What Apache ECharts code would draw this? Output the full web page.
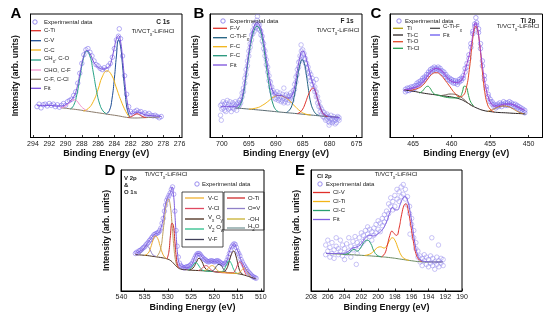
<!DOCTYPE html>
<html><head><meta charset="utf-8">
<script src="https://cdn.jsdelivr.net/npm/echarts@6/dist/echarts.min.js"></script>
<style>html,body{margin:0;padding:0;background:#fff}#c{width:556px;height:321px}</style>
</head><body><div id="c"></div>
<script>
// ---------- tick labels ----------
const A_ticks = [294,292,290,288,286,284,282,280,278,276];
const B_ticks = [700,695,690,685,680,675];
const C_ticks = [465,460,455,450];
const D_ticks = [540,535,530,525,520,515,510];
const E_ticks = [208,206,204,202,200,198,196,194,192,190];

// ---------- Panel A : C 1s ----------
const A_exp = [[293.5,25],[293.25,27],[293,24],[292.75,26.5],[292.5,27],[292.25,25.5],[292,27.5],[291.75,26],[291.5,27],[291.25,25],[291,26.5],[290.75,24.5],[290.5,26],[290.25,27.5],[290,26],[289.75,29],[289.5,30],[289.25,31],[289,34],[288.75,37],[288.5,44],[288.25,52],[288,60],[287.75,67],[287.5,71],[287.25,72],[287,69],[286.75,66],[286.5,62],[286.25,59],[286,58],[285.75,56],[285.5,55],[285.25,56.5],[285,55],[284.75,58],[284.5,60],[284.25,65],[284,72],[283.75,79],[283.5,82],[283.4,88],[283.25,80],[283,66],[282.75,50],[282.5,35],[282.25,25],[282,21],[281.75,19.5],[281.5,21],[281.25,22],[281,20.5],[280.75,21],[280.5,19],[280.25,20],[280,18.5],[279.75,19.5],[279.5,18],[279.25,17.5],[279,18],[278.75,17],[278.5,16],[278.25,17]];
const A_CFCCl = [[290.5,24],[289.5,23.3],[288.5,22.5],[287.5,21.5],[286.5,20.5],[285.5,19.5],[284.5,18.5],[283.5,17.5],[282.5,16.3],[281.5,15.8],[280.5,16],[279.5,16.3],[278.5,16.5]];
const A_CTi = [[282.3,16.3],[281.9,17],[281.5,18.5],[281.2,19.2],[280.9,18.3],[280.5,16.8],[280.1,16.1]];
const A_CV = [[285.0,19],[284.6,22],[284.3,31],[284.0,48],[283.75,66],[283.5,79],[283.25,74],[283.0,58],[282.7,37],[282.4,22],[282.1,16.5]];
const A_CC = [[287.8,21.3],[287.2,23.5],[286.6,29],[286.0,39],[285.5,49],[284.9,54],[284.3,50],[283.8,41],[283.2,30],[282.6,21],[282.2,16.8]];
const A_CHx = [[289.4,23],[289.0,26],[288.6,35],[288.2,50],[287.8,64],[287.4,70],[287.0,66],[286.6,53],[286.2,38],[285.8,27],[285.4,21.5],[285.0,19.3]];
const A_CHO = [[290.6,24],[290.1,25],[289.6,27.5],[289.1,30.5],[288.7,30],[288.3,27],[287.9,24],[287.4,21.8]];
const A_fit = [[293.5,26],[292,26],[291,25.5],[290.5,25.5],[290,26.5],[289.5,29],[289,33],[288.6,40],[288.2,53],[287.8,65],[287.4,70.5],[287.0,68],[286.6,62],[286.2,58],[285.8,56],[285.4,55.5],[285,56],[284.6,58],[284.3,64],[284.0,73],[283.75,80],[283.5,82.5],[283.25,78],[283.0,64],[282.7,44],[282.4,28],[282.1,20.5],[281.8,19],[281.4,20.5],[281.0,20.5],[280.5,19],[280,18],[279,17.5],[278.2,17]];

// ---------- Panel B : F 1s (rows: x, y1, y2) ----------
const B_exp = [[700.25,26,18],[700,27,23],[699.75,24,29],[699.5,22,27],[699.25,28,21],[699,25,30],[698.75,23,27],[698.5,29,24],[698.25,26,21],[698,24,28],[697.75,27,23],[697.5,25,29],[697.25,22,27],[697,28,25],[696.75,30,26],[696.5,31,28],[696.25,36,33],[696,40,37],[695.75,48,44],[695.5,55,51],[695.25,62,58],[695,70,66],[694.75,76,73],[694.5,83,79],[694.25,87,84],[694,91,86],[693.75,93,89],[693.5,95,90],[693.25,92,88],[693,91,87],[692.75,86,83],[692.5,82,78],[692.25,76,72],[692,70,66],[691.75,63,59],[691.5,57,53],[691.25,50,46],[691,45,41],[690.75,41,37],[690.5,38,34],[690.25,36,32],[690,35,31],[689.75,37,32],[689.5,34,30],[689.25,36,31],[689,33,29],[688.75,35,30],[688.5,32,28],[688.25,34,29],[688,31,35],[687.75,33,28],[687.5,30,34],[687.25,32,36],[687,34,30],[686.75,38,35],[686.5,43,39],[686.25,49,45],[686,55,51],[685.75,61,57],[685.5,66,62],[685.25,70,65],[685,71,66],[684.75,68,64],[684.5,64,60],[684.25,60,56],[684,57,52],[683.75,53,49],[683.5,51,46],[683.25,48,43],[683,45,40],[682.75,41,37],[682.5,37,33],[682.25,33,28],[682,29,25],[681.75,25,21],[681.5,23,19],[681.25,21,17],[681,20,16],[680.75,18,14],[680.5,19,15],[680.25,17,13],[680,16,12],[679.75,18,14],[679.5,15,12],[679.25,17,13],[679,14,11],[678.75,16,12],[678.5,15,17],[678.25,14,16],[700.1,14],[693.4,98],[685.3,75],[682.5,47],[688.5,40],[680.1,10]];
const B_base = [[697.5,24],[695,23],[692,21.8],[689,20.5],[686,19.3],[683,18],[680.5,17],[678.5,16.5]];
const B_FV = [[686,19.3],[685.5,20.5],[685,23],[684.5,28],[684,34],[683.5,38.5],[683.1,40],[682.7,38],[682.3,32],[681.8,25],[681.3,20],[680.8,17.8],[680.3,17]];
const B_CTiF = [[688,20.3],[687.5,22],[687,26],[686.5,35],[686,48],[685.5,59],[685.1,63],[684.7,60],[684.3,50],[683.9,38],[683.5,28],[683,22],[682.5,19],[682,18]];
const B_FC1 = [[695,23],[693.5,24],[692.5,26],[691.5,29],[690.5,32.5],[689.5,34],[688.5,33],[687.5,30],[686.5,25.5],[685.5,21.5],[684.5,19],[683.5,18.2]];
const B_FC2 = [[697,24],[696.5,27],[696,35],[695.5,50],[695,66],[694.5,79],[694,87],[693.5,90],[693,88],[692.5,80],[692,66],[691.5,50],[691,36],[690.5,27],[690,22.5],[689.5,21]];
const B_fit = [[700.2,25],[698.5,25],[697.5,25],[697,26],[696.5,29],[696,38],[695.5,53],[695,69],[694.5,82],[694,90],[693.5,93],[693,91],[692.5,84],[692,71],[691.5,57],[691,44],[690.5,37],[690,34.5],[689.5,34],[689,34],[688.5,33],[688,32],[687.5,32],[687,34],[686.5,41],[686,54],[685.5,65],[685.1,70],[684.7,69],[684.3,63],[683.9,56],[683.5,49],[683,42],[682.5,35],[682,28],[681.5,22],[681,19],[680,17],[679,16.5],[678.2,16]];

// ---------- Panel C : Ti 2p (rows: x, y1, y2) ----------
const C_exp = [[466,39,37],[465.75,38,40],[465.5,40,38],[465.25,39,41],[465,41,39],[464.75,40,42],[464.5,42,44],[464.25,43,45],[464,44,46],[463.75,46,48],[463.5,47,49],[463.25,49,51],[463,51,53],[462.75,53,55],[462.5,54,56],[462.25,55,57],[462,56,54],[461.75,55,57],[461.5,54,56],[461.25,52,54],[461,51,53],[460.75,49,51],[460.5,47,49],[460.25,46,48],[460,45,47],[459.75,44,46],[459.5,44,46],[459.25,45,43],[459,45,47],[458.75,46,48],[458.5,48,50],[458.25,53,56],[458,57,60],[457.75,64,67],[457.5,73,76],[457.25,84,86],[457,90,92],[456.75,93,91],[456.5,85,88],[456.25,72,76],[456,58,62],[455.75,47,50],[455.5,39,41],[455.25,33,35],[455,29,31],[454.75,27,29],[454.5,25,27],[454.25,24,26],[454,25,27],[453.75,26,28],[453.5,27,25],[453.25,27,29],[453,26,28],[452.75,28,26],[452.5,27,29],[452.25,26,28],[452,27,25],[451.75,25,27],[451.5,24,26],[451.25,23,25],[451,22,24],[450.75,21,23],[450.5,22,20],[456.85,97]];
const C_TiC = [[466.2,38.5],[465,37.5],[464,36.3],[463,35.3],[462,34.5],[461,33.6],[460,32.8],[459,31.3],[458.2,29],[457.4,26],[456.6,23.5],[455.8,21.8],[455,21],[454,20.3],[453,20],[452,19.6],[451,19.3],[450.4,19]];
const C_TiO = [[465.5,38],[464.5,39.5],[463.8,42],[463.2,46.5],[462.6,51],[462.0,52.5],[461.4,50.5],[460.8,46],[460.2,41],[459.6,36],[459.0,33],[458.5,34],[458.1,40],[457.7,55],[457.4,72],[457.1,86],[456.85,90],[456.6,86],[456.3,72],[456.0,53],[455.7,37],[455.4,28],[455.0,23],[454.5,20.8]];
const C_TiCl = [[464.2,36],[463.8,37.5],[463.4,40.5],[463.1,41.5],[462.8,40],[462.5,37],[462.1,34.8],[459.4,32],[458.9,33],[458.6,37],[458.35,41.5],[458.1,41],[457.8,34],[457.5,28.5],[457.1,25.5]];
const C_Ti = [[455.3,21.2],[454.7,22.5],[454.2,24],[453.7,25.2],[453.2,25.5],[452.7,25],[452.2,23.8],[451.7,22],[451.2,20.3],[450.7,19.3]];
const C_CTiF = [[461.5,33.8],[460.8,34.5],[460.2,35.2],[459.6,35],[459,33.5],[458.4,30.8],[457.8,27.5],[457.2,25]];
const C_fit = [[466.2,38.5],[465,40],[464,43],[463.5,46.5],[463,51],[462.5,54.5],[462,56],[461.5,55],[461,52],[460.5,48],[460,45.5],[459.5,44.5],[459,45],[458.6,47.5],[458.3,53],[458,60],[457.7,67],[457.4,77],[457.15,87],[456.9,93],[456.65,89],[456.4,78],[456.1,63],[455.8,49],[455.5,39],[455.2,32],[454.8,27],[454.4,25.5],[454,25.5],[453.5,26.5],[453,27],[452.5,27],[452,26.5],[451.5,25],[451,23.5],[450.5,22]];

// ---------- Panel D : V 2p & O 1s ----------
const D_exp = [[537,31],[536.75,32],[536.5,31.5],[536.25,33],[536,33.5],[535.75,34],[535.5,35],[535.25,36],[535,36.5],[534.75,38],[534.5,39],[534.25,40],[534,41.5],[533.75,42.5],[533.5,44],[533.25,45],[533,46.5],[532.75,47],[532.5,47.5],[532.25,48],[532,48.5],[531.75,50],[531.5,52],[531.25,56],[531,60],[530.75,66],[530.5,71],[530.25,75],[530,77],[529.75,79],[529.5,81],[529.25,84],[529,86],[528.75,80],[528.5,66],[528.25,50],[528,37],[527.75,28],[527.5,23],[527.25,21],[527,20],[526.75,19.5],[526.5,19],[526.25,19.5],[526,20],[525.75,20],[525.5,20.5],[525.25,21],[525,22],[524.75,23],[524.5,25],[524.25,27],[524,29],[523.75,30.5],[523.5,31],[523.25,31],[523,30],[522.75,28.5],[522.5,27.5],[522.25,26.5],[522,26],[521.75,25],[521.5,24.5],[521.25,24],[521,24.5],[520.75,25],[520.5,25],[520.25,24.5],[520,24],[519.75,24.5],[519.5,25],[519.25,25],[519,24.5],[518.75,23.5],[518.5,23],[518.25,22.5],[518,22],[517.75,22.5],[517.5,23.5],[517.25,25.5],[517,28],[516.75,31],[516.5,34],[516.25,36.5],[516,38],[515.75,39],[515.5,38.5],[515.25,36],[515,33],[514.75,31],[514.5,29],[514.25,26],[514,24],[513.75,22],[513.5,20.5],[513.25,19],[513,17.5],[512.75,16],[512.5,15],[512.25,14],[512,13],[511.75,12],[511.5,11.5],[511.25,11],[511,10.5]];
const D_base = [[537,30],[535,29.5],[533,28.5],[531,27.3],[530,26.3],[529.3,24.8],[528.7,22.5],[528,19.8],[527.3,18.2],[526,17.5],[524,17],[522,16.6],[520,16],[518,15.4],[516,14.8],[514.5,14],[513,12.5],[512,11.2],[511,10]];
const D_OV = [[536.5,29.8],[535.8,31.5],[535.2,35],[534.7,37.5],[534.2,36.5],[533.7,33],[533.2,29.8],[532.6,28.7]];
const D_OH = [[535,29.5],[534.3,31],[533.7,36],[533.2,42],[532.7,45.5],[532.2,43.5],[531.7,37.5],[531.2,31.5],[530.7,28],[530.2,26.6]];
const D_H2O = [[532.5,28.3],[532,30.5],[531.5,36],[531.1,47],[530.7,61],[530.3,72],[529.9,76],[529.5,71],[529.1,55],[528.7,36],[528.3,24],[527.9,19.8]];
const D_OTi = [[530.2,26.5],[529.8,32],[529.45,46],[529.1,56],[528.8,54],[528.5,41],[528.2,28],[527.9,21],[527.5,18.8]];
const D_VxOy = [[525.5,17.3],[524.6,19],[523.9,23.5],[523.3,27],[522.7,24.5],[522,19],[521.2,17],[520,16],[519,15.8],[518,16],[517.4,18],[516.9,23],[516.35,30],[515.85,33],[515.35,29],[514.85,21],[514.35,15.5],[513.8,13.6]];
const D_V2Ow = [[525.6,17.3],[524.9,19.5],[524.4,22.3],[523.95,23.5],[523.45,21.5],[522.9,18.5],[522.2,16.8],[521,16.3],[519,15.8],[518.6,15.7],[517.9,17.8],[517.35,22],[516.85,25],[516.35,22.8],[515.85,18],[515.3,15],[514.8,14.3]];
const D_VCl = [[523.4,17],[522.7,18.5],[522.15,20.5],[521.7,21],[521.2,19.5],[520.6,17.2],[519.9,16],[517,15],[516.1,15],[515.45,17.5],[514.95,22],[514.5,24],[514.05,22],[513.6,17],[513.1,13]];
const D_VC = [[522.1,16.8],[521.4,18.5],[520.85,20.5],[520.4,21],[519.9,19.5],[519.3,17],[518.7,15.8],[515.2,14.6],[514.5,15.5],[514.05,17.5],[513.6,19],[513.15,17.5],[512.7,14.5],[512.2,12]];
const D_VF = [[520.6,16.2],[519.95,18],[519.45,21],[519.0,22],[518.5,21],[518,18],[517.4,15.8]];
const D_fit = [[537,31],[536,33],[535,36],[534.5,39],[534,41.5],[533.5,44],[533,46.5],[532.5,47.5],[532,48],[531.5,52],[531,60],[530.6,70],[530.2,76],[529.8,79],[529.4,82],[529.1,86],[528.8,80],[528.5,64],[528.2,45],[527.9,30],[527.5,22],[527,20],[526,19.5],[525,21],[524.3,27],[523.7,31],[523.2,31],[522.6,28],[522,26],[521.3,24],[520.6,25],[520,24],[519.3,25],[518.6,23],[518,22],[517.3,25],[516.8,32],[516.2,37],[515.7,39],[515.2,35],[514.7,31],[514.2,25],[513.6,21],[513,17],[512,13],[511,10.5]];

// ---------- Panel E : Cl 2p (rows: x, y1, y2) ----------
const E_exp = [[206.25,38,30],[206,33,42],[205.75,28,36],[205.5,40,31],[205.25,34,27],[205,37,44],[204.75,30,35],[204.5,42,33],[204.25,29,38],[204,35,26],[203.75,39,31],[203.5,33,44],[203.25,37,28],[203,41,34],[202.75,36,45],[202.5,40,31],[202.25,44,37],[202,39,48],[201.75,46,41],[201.5,50,43],[201.25,47,53],[201,45,51],[200.75,49,42],[200.5,52,46],[200.25,48,55],[200,51,58],[199.75,56,49],[199.5,60,54],[199.25,63,57],[199,66,60],[198.75,72,64],[198.5,70,77],[198.25,74,67],[198,79,70],[197.75,76,84],[197.5,82,74],[197.25,86,78],[197,80,88],[196.75,84,76],[196.5,78,71],[196.25,70,64],[196,60,55],[195.75,50,44],[195.5,40,35],[195.25,33,28],[195,29,24],[194.75,27,21],[194.5,25,30],[194.25,22,28],[194,26,20],[193.75,29,23],[193.5,21,27],[193.25,24,18],[193,28,22],[192.75,20,25],[192.5,23,27],[192.25,26,21],[202.6,22],[192.8,38],[193.6,44],[196.2,47]];
const E_base = [[206.2,31],[204,30.3],[202,29.5],[200,28.5],[198.5,27.5],[197,26],[196,25],[195,24.2],[194,24],[192.3,24]];
const E_ClC = [[204.2,30.3],[203.6,31],[203.15,33.5],[202.85,34.3],[202.5,33],[202.1,35.5],[201.7,40],[201.3,42],[200.9,39.5],[200.5,33],[200.1,29.5],[199.6,28.3]];
const E_ClTi = [[201.6,29.4],[201,30.5],[200.5,33],[200.05,36],[199.7,36.5],[199.3,35.5],[199,37],[198.6,42],[198.3,44],[198,42],[197.6,35],[197.2,29],[196.8,26.5],[196.3,25.3]];
const E_ClV = [[199.6,28.3],[199.2,31],[198.9,38],[198.6,46],[198.35,49.5],[198.1,47.5],[197.8,46],[197.5,52],[197.2,63],[196.9,71],[196.7,72],[196.4,66],[196.1,54],[195.8,41],[195.5,31],[195.2,26.5],[194.8,24.3]];
const E_fit = [[206.2,31],[205,31],[204,31.3],[203.5,33],[203,35.5],[202.5,36.5],[202,39],[201.5,44],[201,46],[200.5,45.5],[200,47.5],[199.5,50.5],[199,57],[198.6,65],[198.3,69],[198,67],[197.7,67],[197.4,71],[197.1,76],[196.8,78],[196.5,75],[196.2,66],[195.9,53],[195.6,39],[195.3,30],[195,26],[194.5,24.5],[193.5,24],[192.3,24]];

// ---------- build ----------
const FONT = '"Liberation Sans", Arial, sans-serif';
const rows = r => r.flatMap(a => a.slice(1).map(y => [a[0], y]));

const panels = [
  {grid:{left:30.5,top:14,width:151.5,height:123.5}, min:275.7, max:294.3, ticks:A_ticks,
   exp:A_exp, expColor:'rgba(110,95,235,0.8)',
   comps:[[A_CFCCl,'#8a7a6a'],[A_CTi,'#e0302a'],[A_CV,'#1f4e96'],[A_CC,'#f2b418'],[A_CHx,'#27a387'],[A_CHO,'#f294cc']],
   fit:[A_fit,'#7a50dc']},
  {grid:{left:210,top:14,width:152,height:123.5}, min:674, max:702.2, ticks:B_ticks,
   exp:rows(B_exp), expColor:'rgba(130,120,235,0.7)',
   comps:[[B_base,'#5a6a70'],[B_FC1,'#f2b418'],[B_FC2,'#23957a'],[B_CTiF,'#1f5f80'],[B_FV,'#e0302a']],
   fit:[B_fit,'#7a50dc']},
  {grid:{left:390,top:14,width:152.5,height:123.5}, min:448.2, max:468, ticks:C_ticks,
   exp:rows(C_exp), expColor:'rgba(110,95,235,0.8)',
   comps:[[C_TiC,'#2a2222'],[C_CTiF,'#6a5a50'],[C_Ti,'#c07a20'],[C_TiCl,'#2aa050'],[C_TiO,'#e04a2a']],
   fit:[C_fit,'#a040d0']},
  {grid:{left:121,top:170,width:143,height:121}, min:509.3, max:540.1, ticks:D_ticks,
   exp:D_exp, expColor:'rgba(120,100,235,0.8)',
   comps:[[D_base,'#4a3020'],[D_OV,'#9080c8'],[D_OH,'#eaa830'],[D_H2O,'#c0a060'],[D_OTi,'#d02a2a'],[D_VxOy,'#4a2a1a'],[D_V2Ow,'#2abf8a'],[D_VCl,'#e04860'],[D_VC,'#f0b030'],[D_VF,'#40405a']],
   fit:[D_fit,'#8060e0']},
  {grid:{left:311,top:170,width:151,height:121}, min:190, max:208, ticks:E_ticks,
   exp:rows(E_exp), expColor:'rgba(135,125,235,0.7)',
   comps:[[E_base,'#6a8a60'],[E_ClC,'#2aa070'],[E_ClTi,'#f2b418'],[E_ClV,'#e0302a']],
   fit:[E_fit,'#8060e0']}
];

const grid=[], xAxis=[], yAxis=[], series=[];
panels.forEach((p,i)=>{
  grid.push(Object.assign({show:true, borderColor:'#000', borderWidth:1, backgroundColor:'transparent'}, p.grid));
  xAxis.push({gridIndex:i, type:'value', min:p.min, max:p.max, inverse:true,
    axisLine:{show:true, onZero:false, lineStyle:{color:'#000',width:1}},
    axisTick:{show:true, inside:true, length:2.5, customValues:p.ticks, lineStyle:{color:'#000',width:0.8}},
    axisLabel:{customValues:p.ticks, fontSize:7, color:'#222', margin:3, fontFamily:FONT},
    splitLine:{show:false},
    name:'Binding Energy (eV)', nameLocation:'middle', nameGap:12,
    nameTextStyle:{fontSize:9, fontWeight:'bold', color:'#111', fontFamily:FONT}});
  yAxis.push({gridIndex:i, type:'value', min:0, max:100,
    axisLine:{show:true, onZero:false, lineStyle:{color:'#000',width:1}},
    axisTick:{show:false}, axisLabel:{show:false}, splitLine:{show:false},
    name:'Intensity (arb. units)', nameLocation:'middle', nameGap:10, nameRotate:90,
    nameTextStyle:{fontSize:8.5, fontWeight:'bold', color:'#111', fontFamily:FONT}});
  series.push({type:'scatter', xAxisIndex:i, yAxisIndex:i, data:p.exp, symbol:'circle', symbolSize:4.5,
    itemStyle:{color:'rgba(0,0,0,0)', borderColor:p.expColor, borderWidth:0.8}, silent:true, z:2});
  p.comps.forEach(c=>series.push({type:'line', xAxisIndex:i, yAxisIndex:i, data:c[0], smooth:0.5, symbol:'none',
    lineStyle:{color:c[1], width:1}, silent:true, z:3}));
  series.push({type:'line', xAxisIndex:i, yAxisIndex:i, data:p.fit[0], smooth:0.5, symbol:'none',
    lineStyle:{color:p.fit[1], width:1}, silent:true, z:4});
});

// ---------- text / legends (graphic) ----------
const G = [];
const rich = {s:{fontSize:4.5, padding:[4,0,0,0], verticalAlign:'top', fontFamily:FONT}, n:{fontSize:6, verticalAlign:'top', fontFamily:FONT}};
function T(x,y,text,size,bold,align,color){
  G.push({type:'text', x:x, y:y, silent:true, z:100, style:{text:text, fill:color||'#222',
    font:(bold?'bold ':'')+(size||6)+'px '+FONT, textAlign:align||'left', align:align||'left',
    textVerticalAlign:'middle', verticalAlign:'middle', rich:rich}});
}
function L(x1,x2,y,color){ G.push({type:'line', silent:true, z:100, shape:{x1:x1,y1:y,x2:x2,y2:y}, style:{stroke:color, lineWidth:1.3}}); }
function O(x,y,color){ G.push({type:'circle', silent:true, z:100, shape:{cx:x,cy:y,r:2.2}, style:{fill:'none', stroke:color||'#8070e8', lineWidth:0.8}}); }
function R(x,y,w,h){ G.push({type:'rect', silent:true, z:99, shape:{x:x,y:y,width:w,height:h}, style:{fill:'none', stroke:'#222', lineWidth:0.8}}); }

// panel letters
T(16,14,'A',15,true,'center','#000'); T(199,14,'B',15,true,'center','#000'); T(376,14,'C',15,true,'center','#000');
T(110,171,'D',15,true,'center','#000'); T(300,171,'E',15,true,'center','#000');
const sub = '{n|Ti/VCT}{s|x}{n|-LiF/HCl}';
// A
T(163,22,'C 1s',6.5,true,'center'); T(153,33,sub,6,false,'center');
O(35,22); T(44,22,'Experimental data');
[['C-Ti','#e0302a',30.7],['C-V','#1f4e96',40.7],['C-C','#f2b418',50],['{n|CH}{s|x}{n|, C-O}','#27a387',60],['CHO, C-F','#f294cc',70],['C-F, C-Cl','#8a7a6a',79.3],['Fit','#7a50dc',88.3]]
  .forEach(r=>{L(31,41,r[2],r[1]); T(44,r[2],r[0]);});
// B
T(347,21,'F 1s',6.5,true,'center'); T(338,32,sub,6,false,'center');
O(223,21); T(230,21,'Experimental data');
[['F-V','#e0302a',28.3],['{n|C-Ti-F}{s|x}','#1f5f80',37.7],['F-C','#f2b418',46.7],['F-C','#23957a',55.7],['Fit','#7a50dc',65]]
  .forEach(r=>{L(213,227,r[2],r[1]); T(230,r[2],r[0]);});
// C
T(528,21,'Ti 2p',6.5,true,'center'); T(518,28,sub,6,false,'center');
O(399,21); T(405,21,'Experimental data');
[['Ti','#b0a010',28.3],['Ti-C','#2a2222',35],['Ti-O','#e04a2a',41.7],['Ti-Cl','#2aa050',48.3]]
  .forEach(r=>{L(393,403,r[2],r[1]); T(407,r[2],r[0]);});
L(430,440,28.3,'#4a4a4a'); T(443,28.3,'{n|C-Ti-F}{s|x}');
L(430,440,35,'#6a5af0'); T(443,35,'Fit');
// D
T(124,178,'V 2p',6,true); T(124,185,'&',6,true); T(124,192,'O 1s',6,true);
T(166,176,sub,6,false,'center');
O(197,184); T(202,184,'Experimental data');
R(182,192,41,55); R(224,192,40,38);
[['V-C','#f0b030',198],['V-Cl','#e04860',208.5],['{n|V}{s|x}{n| O}{s|y}','#4a2a1a',219],['{n|V}{s|2}{n| O}{s|w}','#2abf8a',229],['V-F','#40405a',239.5]]
  .forEach(r=>{L(185,204,r[2],r[1]); T(208,r[2],r[0]);});
[['O-Ti','#d02a2a',198],['O=V','#9080c8',208.5],['-OH','#c8b030',219],['{n|H}{s|2}{n|O}','#7a9a9a',228]]
  .forEach(r=>{L(227,245,r[2],r[1]); T(248,r[2],r[0]);});
// E
T(317,176,'Cl 2p',6,true); T(396,176,sub,6,false,'center');
O(320,184); T(326,184,'Experimental data');
[['Cl-V','#e0302a',192.5],['Cl-Ti','#f2b418',201.5],['Cl-C','#2aa070',210.5],['Fit','#8060e0',219.5]]
  .forEach(r=>{L(313,330,r[2],r[1]); T(333,r[2],r[0]);});

const chart = echarts.init(document.getElementById('c'), null, {renderer:'canvas'});
chart.setOption({animation:false, backgroundColor:'#fff', grid:grid, xAxis:xAxis, yAxis:yAxis, series:series, graphic:G});
</script></body></html>
